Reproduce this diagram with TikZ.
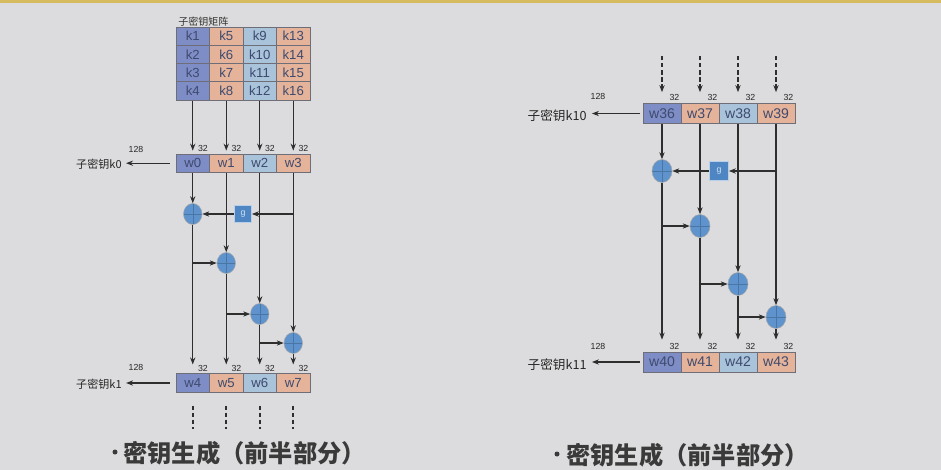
\documentclass[tikz,border=0pt]{standalone}
\usepackage{fontspec}
\setmainfont{Liberation Sans}
\newfontfamily\cjk{Noto Sans CJK SC}
\usepackage{xcolor}
\usetikzlibrary{arrows.meta,positioning,calc,shapes.geometric}

\definecolor{bgc}{HTML}{DCDCDE}
\definecolor{topbar}{HTML}{D6BC5E}
\definecolor{cblue}{HTML}{7E8DC6}
\definecolor{corange}{HTML}{E5B39A}
\definecolor{clight}{HTML}{A9C3DB}
\definecolor{cedge}{HTML}{6E6E78}
\definecolor{ctext}{HTML}{3E4A6E}
\definecolor{xorfill}{HTML}{5E93CD}
\definecolor{gfill}{HTML}{4E86C3}
\definecolor{wirec}{HTML}{2E2E2E}
\definecolor{ttl}{HTML}{3A3A3A}

\tikzset{
  cell/.style={draw=cedge, line width=0.5pt, inner sep=0pt, text=ctext, font=\fontsize{7.5}{8}\selectfont},
  lcell/.style={cell, minimum width=0.67cm, minimum height=0.366cm},
  rcell/.style={cell, minimum width=0.76cm, minimum height=0.40cm, font=\fontsize{8}{9}\selectfont},
  wire/.style={draw=wirec, line width=0.6pt},
  arr/.style={wire, -{Stealth[length=4pt,width=3pt]}},
  dots/.style={wire, dash pattern=on 2.5pt off 1.5pt, line width=0.9pt},
  dotarr/.style={arr, dash pattern=on 2.5pt off 1.5pt, line width=0.9pt},
  xor/.style={ellipse, draw=gray!70, fill=xorfill, line width=0.3pt, minimum width=0.37cm, minimum height=0.42cm, inner sep=0pt,
    path picture={\draw[xorfill!80!black, line width=0.2pt] (path picture bounding box.north) -- (path picture bounding box.south) (path picture bounding box.west) -- (path picture bounding box.east);}},
  rxor/.style={xor, minimum width=0.40cm, minimum height=0.46cm},
  gbox/.style={draw=white!60!gfill, fill=gfill, minimum size=0.34cm, inner sep=0pt, text=white!75!gfill, font=\fontsize{5}{5}\selectfont},
  bits/.style={inner sep=1pt, text=gray!30!black, font=\fontsize{5}{5}\selectfont},
  keylbl/.style={inner sep=0pt, text=black!85, font=\cjk\fontsize{6.3}{7}\selectfont},
  title/.style={inner sep=0pt, text=ttl, font=\cjk\bfseries\fontsize{13.8}{14}\selectfont},
  bullet/.style={circle, fill=ttl, inner sep=0pt, minimum size=1mm},
}

\begin{document}
\begin{tikzpicture}[x=0.02cm, y=-0.02cm]
  \fill[bgc] (0,0) rectangle (941,470);
  \fill[topbar] (0,0) rectangle (941,3);

  % left half: key matrix and first round
  \node[anchor=south west, inner sep=0pt, text=black!80, font=\cjk\fontsize{5.7}{6}\selectfont] (mtitle) at (178,27) {子密钥矩阵};
  \foreach \c/\col in {0/cblue,1/corange,2/clight,3/corange}
    \foreach \r in {0,...,3} {
      \pgfmathtruncatemacro\kk{4*\c+\r+1}
      \node[lcell, fill=\col] (k\kk) at (192.75+33.5*\c, 36.15+18.3*\r) {k\kk};
    }

  \foreach \i/\col in {0/cblue,1/corange,2/clight,3/corange}
    \node[lcell, fill=\col] (w\i) at (192.75+33.5*\i, 163.2) {w\i};
  \foreach \i/\col in {4/cblue,5/corange,6/clight,7/corange}
    \node[lcell, fill=\col] (w\i) at (192.75+33.5*\i-134, 383) {w\i};

  \foreach \k/\w in {4/0,8/1,12/2,16/3} {
    \draw[arr, shorten >=1.7pt] (k\k) -- (w\w);
    \node[bits, anchor=south east] (b\w) at (w\w.north east) {32};
  }
  \foreach \w in {4,...,7}
    \node[bits, anchor=south east] (b\w) at (w\w.north east) {32};

  \node[bits] (n0) at (136,149) {128};
  \node[bits] (n1) at (136,367) {128};
  \node[keylbl, anchor=east] (kl0) at (122,164) {子密钥k0};
  \node[keylbl, anchor=east] (kl1) at (122,384) {子密钥k1};
  \draw[arr, shorten <=3.4pt, shorten >=2.3pt] (w0.west) -- (w0.west -| kl0.east);
  \draw[arr, shorten <=3.4pt, shorten >=2.3pt] (w4.west) -- (w4.west -| kl1.east);

  \node[gbox] (g1) at (243,214) {g};
  \node[xor] (x1) at (w0 |- g1) {};
  \node[xor] (x2) at (w1 |- 0,263) {};
  \node[xor] (x3) at (w2 |- 0,314) {};
  \node[xor] (x4) at (w3 |- 0,343) {};

  \draw[arr] (w0) -- (x1);
  \draw[arr] (w1) -- (x2);
  \draw[arr] (w2) -- (x3);
  \draw[arr] (w3) -- (x4);
  \draw[arr] (w3 |- g1) -- (g1);
  \draw[arr] (g1) -- (x1);
  \draw[arr] (x1 |- x2) -- (x2);
  \draw[arr] (x2 |- x3) -- (x3);
  \draw[arr] (x3 |- x4) -- (x4);
  \draw[arr, shorten >=5.1pt] (x1) -- (w4);
  \draw[arr, shorten >=5.1pt] (x2) -- (w5);
  \draw[arr, shorten >=5.1pt] (x3) -- (w6);
  \draw[arr, shorten >=5.1pt] (x4) -- (w7);

  \foreach \w in {4,...,7}
    \draw[dots] (w\w.south) ++(0,13) -- ++(0,23);

  % right half: round ten
  \foreach \i/\col in {36/cblue,37/corange,38/clight,39/corange}
    \node[rcell, fill=\col] (w\i) at (662+38*\i-1368, 113.5) {w\i};
  \foreach \i/\col in {40/cblue,41/corange,42/clight,43/corange}
    \node[rcell, fill=\col] (w\i) at (662+38*\i-1520, 362) {w\i};

  \foreach \w in {36,...,43}
    \node[bits, anchor=south east] (b\w) at (w\w.north east) {32};
  \foreach \w in {36,...,39}
    \draw[dotarr, shorten >=6.2pt] (w\w.north) ++(0,-47) -- (w\w.north);

  \node[bits] (n10) at (598,96) {128};
  \node[bits] (n11) at (598,346) {128};
  \node[keylbl, anchor=east, font=\cjk\fontsize{7.2}{8}\selectfont] (kl10) at (587,116) {子密钥k10};
  \node[keylbl, anchor=east, font=\cjk\fontsize{7.2}{8}\selectfont] (kl11) at (587,365) {子密钥k11};
  \draw[arr, shorten <=1.2pt, shorten >=2.8pt] (w36.west) -- (w36.west -| kl10.east);
  \draw[arr, shorten <=1.2pt, shorten >=2.8pt] (w40.west) -- (w40.west -| kl11.east);

  \node[gbox, minimum size=0.38cm] (g2) at (719,171) {g};
  \node[rxor] (x5) at (w36 |- g2) {};
  \node[rxor] (x6) at (w37 |- 0,226) {};
  \node[rxor] (x7) at (w38 |- 0,284) {};
  \node[rxor] (x8) at (w39 |- 0,317) {};

  \draw[arr] (w36) -- (x5);
  \draw[arr] (w37) -- (x6);
  \draw[arr] (w38) -- (x7);
  \draw[arr] (w39) -- (x8);
  \draw[arr] (w39 |- g2) -- (g2);
  \draw[arr] (g2) -- (x5);
  \draw[arr] (x5 |- x6) -- (x6);
  \draw[arr] (x6 |- x7) -- (x7);
  \draw[arr] (x7 |- x8) -- (x8);
  \draw[arr, shorten >=6.8pt] (x5) -- (w40);
  \draw[arr, shorten >=6.8pt] (x6) -- (w41);
  \draw[arr, shorten >=6.8pt] (x7) -- (w42);
  \draw[arr, shorten >=6.8pt] (x8) -- (w43);

  % titles
  \node[bullet] (d1) at (115,452) {};
  \node[title, anchor=west] (t1) at (123,453) {密钥生成（前半部分）};
  \node[bullet] (d2) at (557,454) {};
  \node[title, anchor=west] (t2) at (566,455) {密钥生成（前半部分）};
\end{tikzpicture}
\end{document}
